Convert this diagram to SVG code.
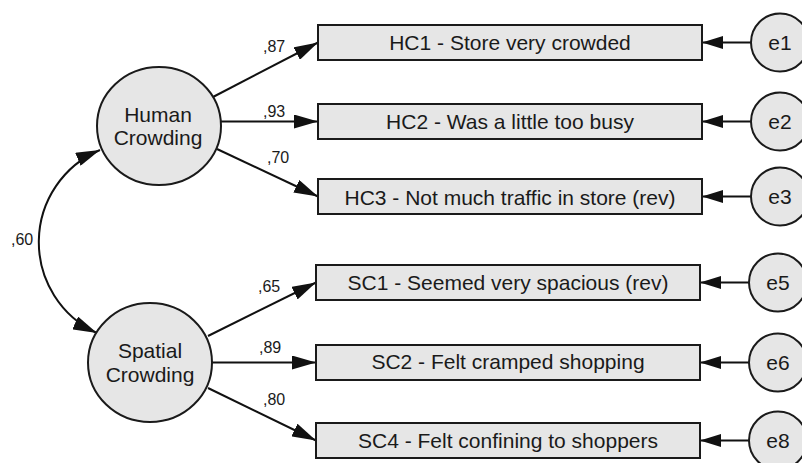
<svg xmlns="http://www.w3.org/2000/svg" width="802" height="463" viewBox="0 0 802 463">
<style>
.node{fill:#e6e6e6;stroke:#1a1a1a;stroke-width:2}
.t{font-family:"Liberation Sans",Arial,sans-serif;font-size:21px;fill:#1a1a1a;text-anchor:middle}
.c{font-family:"Liberation Sans",Arial,sans-serif;font-size:16px;fill:#1a1a1a}
.e{stroke:#111;stroke-width:2;fill:none}
</style>
<defs>
<marker id="ah" markerUnits="userSpaceOnUse" markerWidth="24" markerHeight="14" refX="24" refY="7" orient="auto-start-reverse">
<path d="M0,0 L24,7 L0,14 z" fill="#111"/>
</marker>
<marker id="as" markerUnits="userSpaceOnUse" markerWidth="21" markerHeight="13" refX="21" refY="6.5" orient="auto">
<path d="M0,0 L21,6.5 L0,13 z" fill="#111"/>
</marker>
</defs>
<rect width="802" height="463" fill="#fff"/>
<g id="connectors">
<path class="e" d="M213,97 L318,42.5" marker-end="url(#ah)"/>
<path class="e" d="M221,121.5 L318,121.5" marker-end="url(#ah)"/>
<path class="e" d="M217,149 L318,196.5" marker-end="url(#ah)"/>
<path class="e" d="M208,336 L316,282.5" marker-end="url(#ah)"/>
<path class="e" d="M212,362.5 L316,362.5" marker-end="url(#ah)"/>
<path class="e" d="M208,388 L316,440.5" marker-end="url(#ah)"/>
<path class="e" d="M100,150 A100,100 0 0 0 97,333" marker-start="url(#ah)" marker-end="url(#ah)"/>
<path class="e" d="M751,42.5 L702,42.5" marker-end="url(#as)"/>
<path class="e" d="M751,121.5 L702,121.5" marker-end="url(#as)"/>
<path class="e" d="M751,196.5 L702,196.5" marker-end="url(#as)"/>
<path class="e" d="M749,282.5 L700,282.5" marker-end="url(#as)"/>
<path class="e" d="M749,362.5 L700,362.5" marker-end="url(#as)"/>
<path class="e" d="M749,440.5 L700,440.5" marker-end="url(#as)"/>
<text class="c" x="263" y="52">,87</text>
<text class="c" x="263" y="117">,93</text>
<text class="c" x="267" y="163">,70</text>
<text class="c" x="11" y="245">,60</text>
<text class="c" x="258" y="292">,65</text>
<text class="c" x="259" y="353">,89</text>
<text class="c" x="263" y="405">,80</text>
</g>
<g id="human">
<ellipse class="node" cx="159" cy="126" rx="62" ry="59"/>
<text class="t" x="158" y="122">Human</text>
<text class="t" x="158" y="145">Crowding</text>
</g>
<g id="spatial">
<ellipse class="node" cx="150" cy="362.5" rx="62" ry="59.5"/>
<text class="t" x="150" y="358">Spatial</text>
<text class="t" x="150" y="382">Crowding</text>
</g>
<g id="hc1"><rect class="node" x="318" y="25" width="384" height="35"/><text class="t" x="510" y="50">HC1 - Store very crowded</text></g>
<g id="hc2"><rect class="node" x="318" y="104" width="384" height="35"/><text class="t" x="510" y="129">HC2 - Was a little too busy</text></g>
<g id="hc3"><rect class="node" x="318" y="179" width="384" height="35"/><text class="t" x="510" y="204.5">HC3 - Not much traffic in store (rev)</text></g>
<g id="sc1"><rect class="node" x="316" y="265" width="384" height="35"/><text class="t" x="508" y="290">SC1 - Seemed very spacious (rev)</text></g>
<g id="sc2"><rect class="node" x="316" y="345" width="384" height="35"/><text class="t" x="508" y="369">SC2 - Felt cramped shopping</text></g>
<g id="sc4"><rect class="node" x="316" y="423" width="384" height="35"/><text class="t" x="508" y="447.5">SC4 - Felt confining to shoppers</text></g>
<g id="e1"><circle class="node" cx="780" cy="42.5" r="29"/><text class="t" x="780" y="50">e1</text></g>
<g id="e2"><circle class="node" cx="780" cy="121.5" r="29"/><text class="t" x="780" y="129">e2</text></g>
<g id="e3"><circle class="node" cx="780" cy="196.5" r="29"/><text class="t" x="780" y="204">e3</text></g>
<g id="e5"><circle class="node" cx="778" cy="282.5" r="29"/><text class="t" x="778" y="290">e5</text></g>
<g id="e6"><circle class="node" cx="778" cy="362.5" r="29"/><text class="t" x="778" y="370">e6</text></g>
<g id="e8"><circle class="node" cx="778" cy="440.5" r="29"/><text class="t" x="778" y="448">e8</text></g>
</svg>
